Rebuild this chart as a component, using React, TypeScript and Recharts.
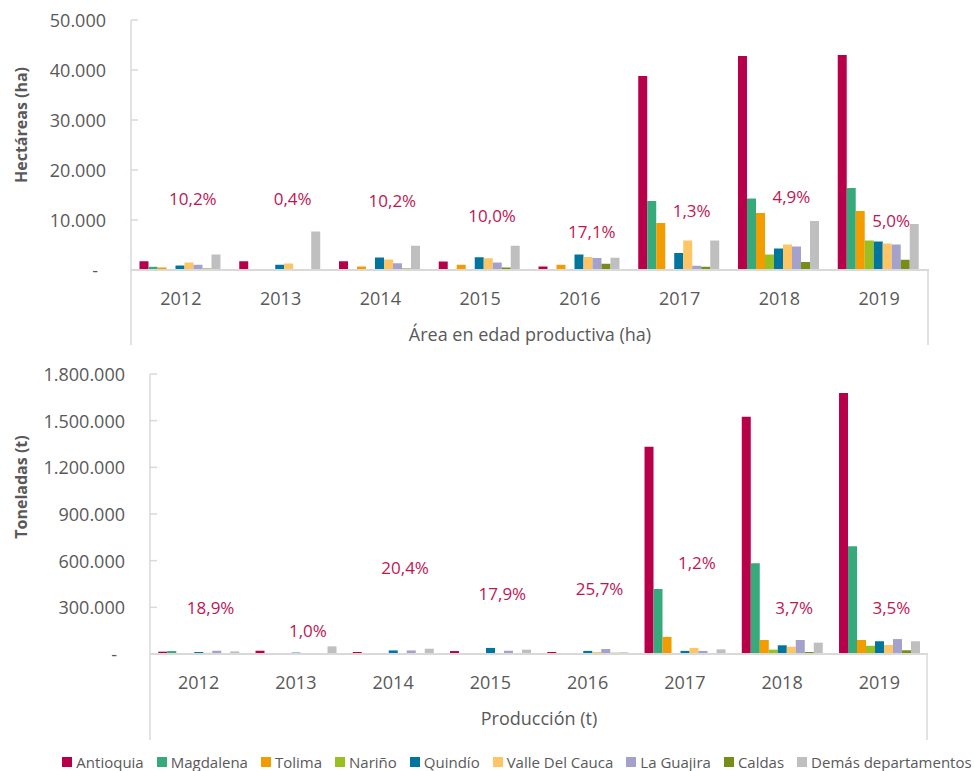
import { ComposedChart, Bar, Line, XAxis, YAxis, Legend, LabelList } from 'recharts';

const years = ['2012', '2013', '2014', '2015', '2016', '2017', '2018', '2019'];
const seriesNames = ['Antioquia', 'Magdalena', 'Tolima', 'Nariño', 'Quindío', 'Valle Del Cauca', 'La Guajira', 'Caldas', 'Demás departamentos'];
const colors = ['#B8004A', '#36AA7B', '#F29C00', '#9ABF21', '#00769F', '#FEC564', '#A4A1CC', '#778D18', '#BFBFBF'];

// área en edad productiva (ha)
const areaAntioquia = [1750, 1750, 1750, 1700, 700, 38800, 42800, 43000];
const areaMagdalena = [640, 0, 100, 100, 0, 13800, 14300, 16400];
const areaTolima = [500, 0, 700, 1050, 1050, 9400, 11400, 11800];
const areaNarino = [100, 0, 0, 0, 0, 0, 3100, 5900];
const areaQuindio = [900, 1050, 2500, 2550, 3100, 3400, 4300, 5700];
const areaValle = [1500, 1300, 2100, 2350, 2600, 5900, 5100, 5300];
const areaGuajira = [1050, 0, 1350, 1500, 2400, 850, 4700, 5100];
const areaCaldas = [300, 50, 300, 500, 1250, 650, 1600, 2050];
const areaDemas = [3100, 7700, 4850, 4850, 2450, 5900, 9800, 9200];
const areaPct = ['10,2%', '0,4%', '10,2%', '10,0%', '17,1%', '1,3%', '4,9%', '5,0%'];
const areaPctAt = [14400, 14400, 14000, 11000, 7800, 12000, 14800, 10000];
const areaTicks = [0, 10000, 20000, 30000, 40000, 50000];

// producción (t)
const prodAntioquia = [15000, 21000, 13000, 19000, 13000, 1332000, 1525000, 1678000];
const prodMagdalena = [19000, 0, 2000, 0, 0, 418000, 583000, 692000];
const prodTolima = [0, 0, 0, 0, 2000, 110000, 90000, 90000];
const prodNarino = [0, 0, 0, 0, 0, 0, 28000, 53000];
const prodQuindio = [13000, 9000, 23000, 39000, 20000, 20000, 56000, 82000];
const prodValle = [8000, 3000, 6000, 0, 13000, 39000, 47000, 58000];
const prodGuajira = [21000, 0, 23000, 21000, 32000, 20000, 90000, 96000];
const prodCaldas = [0, 0, 0, 0, 8000, 3000, 13000, 24000];
const prodDemas = [17000, 49000, 34000, 28000, 11000, 30000, 73000, 82000];
const prodPct = ['18,9%', '1,0%', '20,4%', '17,9%', '25,7%', '1,2%', '3,7%', '3,5%'];
const prodPctAt = [296000, 148000, 553000, 386000, 424000, 591000, 299000, 299000];
const prodTicks = [0, 300000, 600000, 900000, 1200000, 1500000, 1800000];

const FONT = "'Open Sans', sans-serif";
const TEXT = '#595959';
const AXIS = '#D9D9D9';
const PCT = '#BF1551';

function buildRows(series: number[][], pct: string[], pctAt: number[]) {
  return years.map((year, i) => {
    const row: Record<string, string | number> = { year, pct: pct[i], pctAt: pctAt[i] };
    series.forEach((s, k) => {
      row['s' + k] = s[i];
    });
    return row;
  });
}

const areaRows = buildRows(
  [areaAntioquia, areaMagdalena, areaTolima, areaNarino, areaQuindio, areaValle, areaGuajira, areaCaldas, areaDemas],
  areaPct,
  areaPctAt,
);
const prodRows = buildRows(
  [prodAntioquia, prodMagdalena, prodTolima, prodNarino, prodQuindio, prodValle, prodGuajira, prodCaldas, prodDemas],
  prodPct,
  prodPctAt,
);

const fmt = (v: number) => String(v).replace(/\B(?=(\d{3})+(?!\d))/g, '.');

function YTick({ x, y, payload }: any) {
  const zero = payload.value === 0;
  return (
    <g>
      {!zero && <line x1={x + 25} x2={x + 32} y1={y} y2={y} stroke={AXIS} strokeWidth={1.5} />}
      <text x={zero ? x - 8 : x} y={y} textAnchor="end" dominantBaseline="central" fill={TEXT} fontSize={18} fontFamily={FONT}>
        {zero ? '-' : fmt(payload.value)}
      </text>
    </g>
  );
}

function XTick({ x, y, payload }: any) {
  return (
    <text x={x} y={y + 33} textAnchor="middle" fill={TEXT} fontSize={18} fontFamily={FONT}>
      {payload.value}
    </text>
  );
}

function groupLabel(text: string) {
  return (props: any) => {
    const vb = props.viewBox;
    return (
      <g>
        <line x1={vb.x} x2={vb.x} y1={vb.y} y2={vb.y + vb.height} stroke={AXIS} strokeWidth={1.5} />
        <line x1={vb.x + vb.width - 1} x2={vb.x + vb.width - 1} y1={vb.y} y2={vb.y + vb.height} stroke={AXIS} strokeWidth={1.5} />
        <text x={vb.x + vb.width / 2} y={vb.y + 71} textAnchor="middle" fill={TEXT} fontSize={18} fontFamily={FONT}>
          {text}
        </text>
      </g>
    );
  };
}

function yTitle(text: string, lift: number) {
  return (props: any) => {
    const vb = props.viewBox;
    const cx = 21;
    const cy = vb.y + vb.height / 2 - lift;
    return (
      <text
        x={cx}
        y={cy}
        transform={`rotate(-90 ${cx} ${cy})`}
        textAnchor="middle"
        dominantBaseline="central"
        fill={TEXT}
        fontSize={16}
        fontWeight="bold"
        fontFamily={FONT}
      >
        {text}
      </text>
    );
  };
}

function pctLabel(p: any) {
  return (
    <text x={p.x + 12} y={p.y} textAnchor="middle" dominantBaseline="central" fill={PCT} fontSize={17} fontFamily={FONT}>
      {p.value}
    </text>
  );
}

function LegendRow({ payload }: any) {
  const items = (payload || [])
    .filter((e: any) => seriesNames.includes(e.value))
    .sort((a: any, b: any) => seriesNames.indexOf(a.value) - seriesNames.indexOf(b.value));
  return (
    <div
      style={{
        display: 'flex',
        justifyContent: 'center',
        fontFamily: FONT,
        fontSize: 15,
        color: TEXT,
        lineHeight: '16px',
        whiteSpace: 'nowrap',
      }}
    >
      {items.map((e: any, i: number) => (
        <span key={e.value} style={{ display: 'flex', alignItems: 'center', marginRight: i < items.length - 1 ? 13 : 0 }}>
          <span style={{ width: 10, height: 10, background: e.color, marginRight: 4, display: 'inline-block' }} />
          {e.value}
        </span>
      ))}
    </div>
  );
}

interface PanelProps {
  rows: Record<string, string | number>[];
  ticks: number[];
  width: number;
  height: number;
  margin: { top: number; right: number; bottom: number; left: number };
  yWidth: number;
  xHeight: number;
  title: string;
  titleLift: number;
  group: string;
  legend?: boolean;
}

function Panel({ rows, ticks, width, height, margin, yWidth, xHeight, title, titleLift, group, legend }: PanelProps) {
  return (
    <ComposedChart width={width} height={height} data={rows} margin={margin} barCategoryGap="8.5%" barGap={0}>
      <XAxis
        dataKey="year"
        axisLine={{ stroke: AXIS, strokeWidth: 2 }}
        tickLine={false}
        tickSize={0}
        interval={0}
        height={xHeight}
        tick={<XTick />}
        label={groupLabel(group)}
      />
      <YAxis
        domain={[ticks[0], ticks[ticks.length - 1]]}
        ticks={ticks}
        width={yWidth}
        axisLine={{ stroke: AXIS, strokeWidth: 1.5 }}
        tickLine={false}
        tickSize={0}
        tickMargin={25}
        tick={<YTick />}
        interval={0}
        label={yTitle(title, titleLift)}
      />
      {seriesNames.map((name, k) => (
        <Bar key={name} dataKey={'s' + k} name={name} fill={colors[k]} isAnimationActive={false} />
      ))}
      <Line
        dataKey="pctAt"
        stroke="none"
        dot={false}
        activeDot={false}
        legendType="none"
        isAnimationActive={false}
      >
        <LabelList dataKey="pct" content={pctLabel} />
      </Line>
      {legend && (
        <Legend
          verticalAlign="middle"
          layout="horizontal"
          wrapperStyle={{ top: 399, left: 37, width: 960, height: 16 }}
          content={<LegendRow />}
        />
      )}
    </ComposedChart>
  );
}

export default function App() {
  return (
    <div style={{ position: 'absolute', left: 0, top: 0, width: 974, height: 771, background: '#fff' }}>
      <div style={{ position: 'absolute', left: 0, top: 0, width: 974, height: 345, overflow: 'hidden' }}>
        <Panel
          rows={areaRows}
          ticks={areaTicks}
          width={974}
          height={345}
          margin={{ top: 20, right: 45, bottom: 0, left: 0 }}
          yWidth={131}
          xHeight={75}
          title="Hectáreas (ha)"
          titleLift={20}
          group="Área en edad productiva (ha)"
        />
      </div>
      <div style={{ position: 'absolute', left: 0, top: 355, width: 974, height: 416 }}>
        <Panel
          rows={prodRows}
          ticks={prodTicks}
          width={974}
          height={416}
          margin={{ top: 19, right: 46, bottom: 31, left: 0 }}
          yWidth={150}
          xHeight={86}
          title="Toneladas (t)"
          titleLift={27}
          group="Producción (t)"
          legend
        />
      </div>
    </div>
  );
}
